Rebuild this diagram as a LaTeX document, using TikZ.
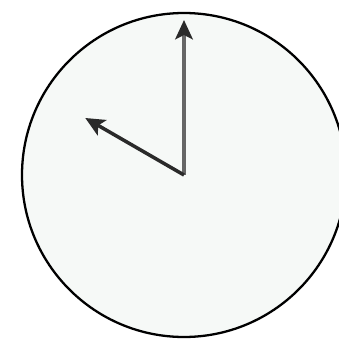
\documentclass[tikz,border=0pt]{standalone}
\usetikzlibrary{arrows.meta}
\usepackage{xcolor}
\definecolor{facefill}{HTML}{F6F9F7}
\definecolor{handgray}{HTML}{2A2A2A}

\begin{document}
\begin{tikzpicture}[x=0.02cm, y=0.02cm,
		hand/.style={handgray, line width=2pt, -{Stealth[length=11pt,width=10pt,inset=2.5pt,color=handgray]}}]
		\useasboundingbox (-184,-167) rectangle (155,175);
		\clip (-184,-167) rectangle (155,175);

		% clock face
		\coordinate (centre) at (0,0);
		\draw[line width=1.3pt, fill=facefill] (centre) circle (162);

		% hand tips
		\coordinate (minutetip) at (90:155);
		\coordinate (hourtip) at (150:114);

		% hands
		\draw[hand, draw=black!60] (centre) -- (minutetip);
		\draw[hand] (centre) -- (hourtip);
	\end{tikzpicture}
\end{document}
